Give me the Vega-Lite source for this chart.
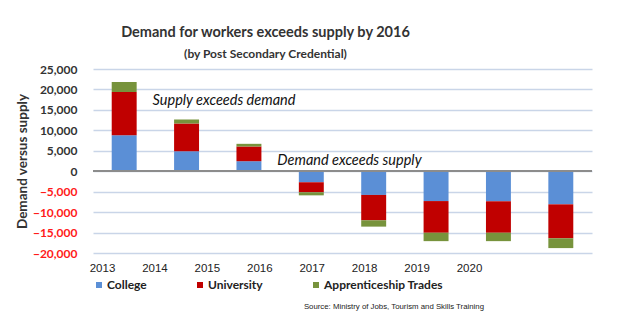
{
  "$schema": "https://vega.github.io/schema/vega-lite/v6.json",
  "width": 499,
  "height": 184,
  "padding": {"top": 24, "left": 15, "right": 5, "bottom": 5},
  "background": "white",
  "config": {
    "view": {"stroke": null},
    "axisY": {
      "titleFont": "Lato",
      "titleFontSize": 13.5,
      "titleFontWeight": "bold",
      "titleColor": "#333333",
      "titlePadding": 3,
      "labelOverlap": false,
      "labelFont": "Lato",
      "labelFontSize": 12,
      "labelFontWeight": "bold",
      "labelPadding": 16,
      "ticks": false,
      "domain": false,
      "grid": true,
      "gridColor": "#c9d5e8",
      "gridWidth": 1.3
    }
  },
  "title": {
    "text": "Demand for workers exceeds supply by 2016",
    "subtitle": "(by Post Secondary Credential)",
    "font": "Lato",
    "fontSize": 14.5,
    "fontWeight": "bold",
    "color": "#333333",
    "subtitleFont": "Lato",
    "subtitleFontSize": 12,
    "subtitleFontWeight": "bold",
    "subtitleColor": "#333333",
    "subtitlePadding": 9,
    "anchor": "middle",
    "frame": "group",
    "dx": -77,
    "offset": 2
  },
  "datasets": {
    "bars": [
      {"year": "2013", "type": "College", "rank": 1, "value": 8800},
      {"year": "2014", "type": "College", "rank": 1, "value": 4900},
      {"year": "2015", "type": "College", "rank": 1, "value": 2450},
      {"year": "2016", "type": "College", "rank": 1, "value": -2700},
      {"year": "2017", "type": "College", "rank": 1, "value": -5800},
      {"year": "2018", "type": "College", "rank": 1, "value": -7300},
      {"year": "2019", "type": "College", "rank": 1, "value": -7350},
      {"year": "2020", "type": "College", "rank": 1, "value": -8100},
      {"year": "2013", "type": "University", "rank": 2, "value": 10600},
      {"year": "2014", "type": "University", "rank": 2, "value": 6750},
      {"year": "2015", "type": "University", "rank": 2, "value": 3600},
      {"year": "2016", "type": "University", "rank": 2, "value": -2450},
      {"year": "2017", "type": "University", "rank": 2, "value": -6200},
      {"year": "2018", "type": "University", "rank": 2, "value": -7750},
      {"year": "2019", "type": "University", "rank": 2, "value": -7700},
      {"year": "2020", "type": "University", "rank": 2, "value": -8300},
      {"year": "2013", "type": "Apprenticeship Trades", "rank": 3, "value": 2400},
      {"year": "2014", "type": "Apprenticeship Trades", "rank": 3, "value": 1000},
      {"year": "2015", "type": "Apprenticeship Trades", "rank": 3, "value": 650},
      {"year": "2016", "type": "Apprenticeship Trades", "rank": 3, "value": -750},
      {"year": "2017", "type": "Apprenticeship Trades", "rank": 3, "value": -1550},
      {"year": "2018", "type": "Apprenticeship Trades", "rank": 3, "value": -2050},
      {"year": "2019", "type": "Apprenticeship Trades", "rank": 3, "value": -2050},
      {"year": "2020", "type": "Apprenticeship Trades", "rank": 3, "value": -2400}
    ],
    "notes": [
      {"year": "2014", "value": 17150, "label": "Supply exceeds demand"},
      {"year": "2016", "value": 2450, "label": "Demand exceeds supply"}
    ],
    "years": [
      {"year": "2013"}, {"year": "2014"}, {"year": "2015"}, {"year": "2016"},
      {"year": "2017"}, {"year": "2018"}, {"year": "2019"}, {"year": "2020"}
    ],
    "source": [
      {"year": "2020", "value": -20000, "label": "Source:  Ministry of Jobs, Tourism and Skills Training"}
    ]
  },
  "resolve": {"scale": {"x": "independent"}},
  "layer": [
    {
      "data": {"name": "bars"},
      "mark": {"type": "bar"},
      "encoding": {
        "x": {
          "field": "year", "type": "nominal",
          "scale": {"domain": ["2013","2014","2015","2016","2017","2018","2019","2020"], "paddingInner": 0.6, "paddingOuter": 0.3},
          "axis": null
        },
        "y": {
          "field": "value", "type": "quantitative",
          "stack": "zero",
          "scale": {"domain": [-20000, 25000], "nice": false},
          "axis": {
            "title": "Demand versus supply",
            "values": [-20000, -15000, -10000, -5000, 0, 5000, 10000, 15000, 20000, 25000],
            "labelExpr": "format(datum.value, ',')",
            "labelColor": {"expr": "datum.value < 0 ? '#ff1a1a' : '#333333'"}
          }
        },
        "color": {
          "field": "type", "type": "nominal",
          "scale": {
            "domain": ["College", "University", "Apprenticeship Trades"],
            "range": ["#5b8fd6", "#c00000", "#77933c"]
          },
          "legend": {
            "title": null,
            "orient": "bottom",
            "direction": "horizontal",
            "offset": 5,
            "symbolType": "square",
            "symbolSize": 36,
            "symbolStrokeWidth": 0,
            "labelFont": "Lato",
            "labelFontSize": 12,
            "labelFontWeight": "bold",
            "labelColor": "#222222",
            "columnPadding": 47,
            "labelOffset": 2
          }
        },
        "order": {"field": "rank", "type": "quantitative"}
      }
    },
    {
      "data": {"name": "bars"},
      "mark": {"type": "rule", "color": "#8c8c8c", "strokeWidth": 1.2},
      "encoding": {
        "y": {
          "datum": 0,
          "type": "quantitative",
          "axis": {
            "title": "Demand versus supply",
            "values": [-20000, -15000, -10000, -5000, 0, 5000, 10000, 15000, 20000, 25000],
            "labelExpr": "format(datum.value, ',')",
            "labelColor": {"expr": "datum.value < 0 ? '#ff1a1a' : '#333333'"}
          }
        }
      }
    },
    {
      "data": {"name": "notes"},
      "mark": {"type": "text", "align": "left", "baseline": "middle", "font": "Lato", "fontSize": 14.5, "fontStyle": "italic", "color": "#111111", "dx": -34},
      "encoding": {
        "x": {
          "field": "year", "type": "nominal",
          "scale": {"domain": ["2013","2014","2015","2016","2017","2018","2019","2020"], "paddingInner": 0.6, "paddingOuter": 0.3},
          "axis": null
        },
        "y": {
          "field": "value", "type": "quantitative",
          "axis": {
            "title": "Demand versus supply",
            "values": [-20000, -15000, -10000, -5000, 0, 5000, 10000, 15000, 20000, 25000],
            "labelExpr": "format(datum.value, ',')",
            "labelColor": {"expr": "datum.value < 0 ? '#ff1a1a' : '#333333'"}
          }
        },
        "text": {"field": "label"}
      }
    },
    {
      "data": {"name": "years"},
      "mark": {"type": "point", "opacity": 0},
      "encoding": {
        "x": {
          "field": "year", "type": "ordinal",
          "scale": {"type": "point", "domain": ["2013","2014","2015","2016","2017","2018","2019","2020"], "range": [9, 376], "padding": 0},
          "axis": {
            "title": null,
            "orient": "bottom",
            "domain": false,
            "ticks": false,
            "labelAngle": 0,
            "labelFont": "Liberation Sans",
            "labelFontSize": 11.5,
            "labelColor": "#222222",
            "labelPadding": 9
          }
        }
      }
    },
    {
      "data": {"name": "source"},
      "mark": {"type": "text", "align": "right", "baseline": "middle", "font": "Liberation Sans", "fontSize": 7.8, "color": "#222222", "dx": 15, "dy": 54},
      "encoding": {
        "x": {
          "field": "year", "type": "ordinal",
          "scale": {"type": "point", "domain": ["2013","2014","2015","2016","2017","2018","2019","2020"], "range": [9, 376], "padding": 0},
          "axis": null
        },
        "y": {
          "field": "value", "type": "quantitative",
          "axis": {
            "title": "Demand versus supply",
            "values": [-20000, -15000, -10000, -5000, 0, 5000, 10000, 15000, 20000, 25000],
            "labelExpr": "format(datum.value, ',')",
            "labelColor": {"expr": "datum.value < 0 ? '#ff1a1a' : '#333333'"}
          }
        },
        "text": {"field": "label"}
      }
    }
  ]
}
